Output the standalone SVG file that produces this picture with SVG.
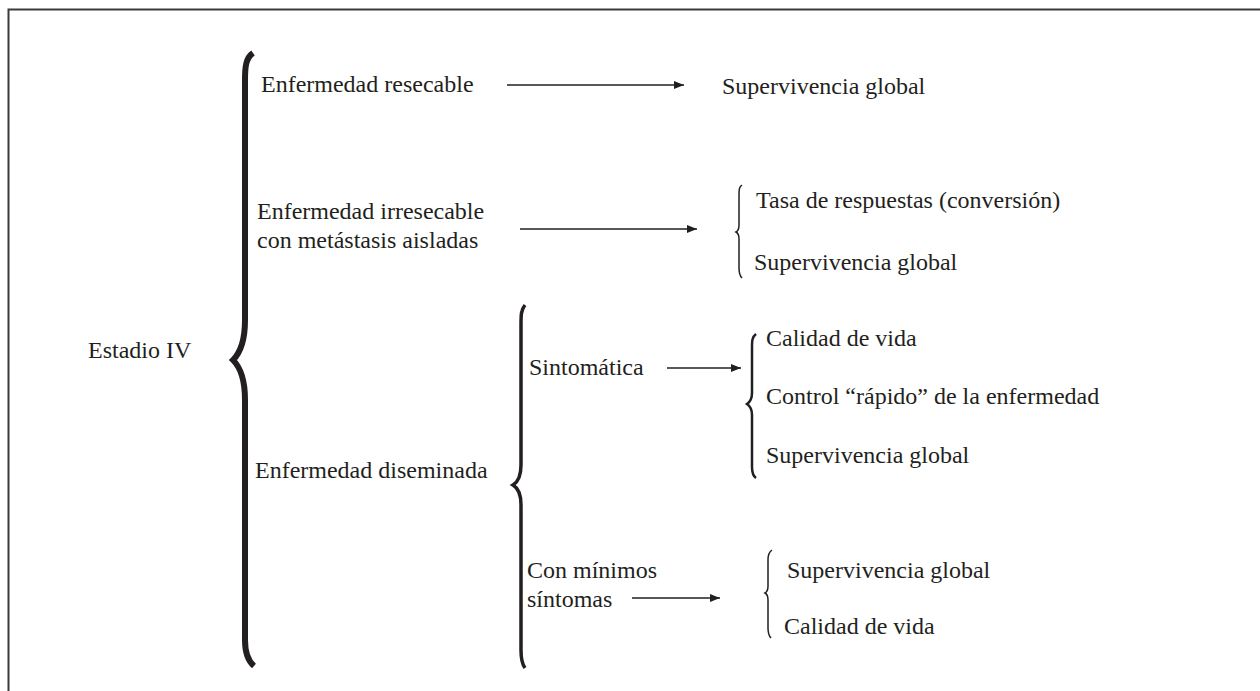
<svg xmlns="http://www.w3.org/2000/svg" width="1260" height="691" viewBox="0 0 1260 691">
<defs>
<style>
text{font-family:"Liberation Serif","Times New Roman",serif;font-size:24px;fill:#231f20}
.arr{stroke:#231f20;stroke-width:1.5;fill:none;marker-end:url(#ah)}
.brace{fill:none;stroke:#231f20;stroke-linecap:butt;stroke-linejoin:miter}
</style>
<marker id="ah" viewBox="0 0 10 8" refX="10" refY="4" markerWidth="10" markerHeight="8" markerUnits="userSpaceOnUse" orient="auto">
<path d="M0,0 L10,4 L0,8 Z" fill="#231f20"/>
</marker>
</defs>
<rect width="1260" height="691" fill="#fff"/>
<g id="frame" fill="none" stroke="#3a3a3a" stroke-width="2">
<path d="M8.5,691 L8.5,9.5 L1260,9.5"/>
</g>
<g id="braces">
<path class="brace" stroke-width="6" d="M253,53 C246,58 245,66 245,80 L245,320 C245,340 241,352 233,360 C241,368 245,380 245,400 L245,640 C245,652 247,660 254,666"/>
<path class="brace" stroke-width="3.5" d="M525,305 C521,310 521,315 521,325 L521,465 C521,475 518,482 513,485 C518,488 521,495 521,505 L521,650 C521,660 522,664 525,668"/>
<path class="brace" stroke-width="1.5" d="M742,185 C739,187 739,190 739,195 L739,225 C739,229 738,231 736,232 C738,233 739,235 739,239 L739,268 C739,273 740,276 742,278"/>
<path class="brace" stroke-width="2.5" d="M756,334 C752,337 752,341 752,348 L752,393 C752,399 750,402 747,404 C750,406 752,409 752,415 L752,467 C752,473 753,476 756,478"/>
<path class="brace" stroke-width="1.5" d="M772,550 C769,552 768,555 768,560 L768,586 C768,590 767,592 765,593 C767,594 768,596 768,600 L768,628 C768,633 769,636 771,638"/>
</g>
<g id="connectors">
<line class="arr" x1="507" y1="85" x2="684" y2="85"/>
<line class="arr" x1="520" y1="229" x2="697" y2="229"/>
<line class="arr" x1="667" y1="368" x2="741" y2="368"/>
<line class="arr" x1="632" y1="598" x2="720" y2="598"/>
</g>
<g id="estadio"><text x="88" y="358">Estadio IV</text></g>
<g id="resecable"><text x="261" y="92">Enfermedad resecable</text></g>
<g id="irresecable"><text x="257" y="219">Enfermedad irresecable</text><text x="257" y="248">con metástasis aisladas</text></g>
<g id="diseminada"><text x="255" y="478">Enfermedad diseminada</text></g>
<g id="sintomatica"><text x="529" y="375">Sintomática</text></g>
<g id="minimos"><text x="527" y="578">Con mínimos</text><text x="527" y="607">síntomas</text></g>
<g id="out1"><text x="722" y="94">Supervivencia global</text></g>
<g id="out2"><text x="756" y="208">Tasa de respuestas (conversión)</text><text x="754" y="270">Supervivencia global</text></g>
<g id="out3"><text x="766" y="346">Calidad de vida</text><text x="766" y="404">Control “rápido” de la enfermedad</text><text x="766" y="463">Supervivencia global</text></g>
<g id="out4"><text x="787" y="578">Supervivencia global</text><text x="784" y="634">Calidad de vida</text></g>
</svg>
